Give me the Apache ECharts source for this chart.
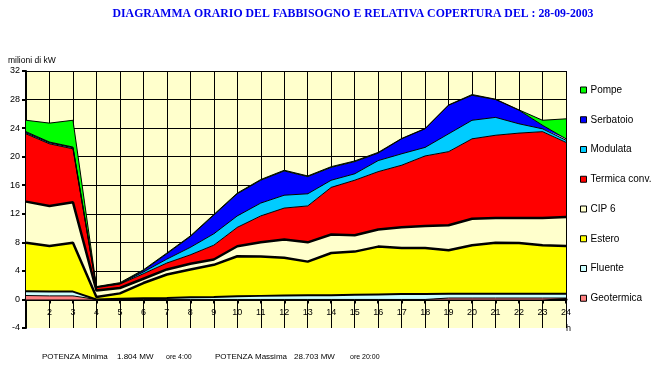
<!DOCTYPE html>
<html><head><meta charset="utf-8">
<script src="https://cdn.jsdelivr.net/npm/echarts@6/dist/echarts.min.js"></script>
<style>html,body{margin:0;padding:0;background:#fff}#c{width:653px;height:366px}</style>
</head><body><div id="c"></div>
<script>
const hours = ['1','2','3','4','5','6','7','8','9','10','11','12','13','14','15','16','17','18','19','20','21','22','23','24'];
const yTicks = [-4,0,4,8,12,16,20,24,28,32];
const geotermica = [0.55,0.5,0.5,0,0,0,0,0,0,0,0,0,0,0,0,0,0,0,0.2,0.2,0.2,0.2,0.2,0.2];
const fluente    = [0.6,0.6,0.6,0,0.1,0.15,0.2,0.3,0.35,0.45,0.5,0.55,0.6,0.6,0.65,0.7,0.75,0.75,0.6,0.6,0.6,0.6,0.6,0.6];
const estero     = [6.8,6.4,6.85,0.35,0.75,2.15,3.3,3.9,4.5,5.6,5.5,5.3,4.7,5.9,6.05,6.7,6.45,6.45,6.1,6.8,7.15,7.1,6.8,6.7];
const cip6       = [5.75,5.6,5.65,0.9,0.75,0.6,0.7,0.8,0.75,1.4,2.0,2.55,2.7,2.6,2.3,2.4,2.9,3.1,3.5,3.7,3.45,3.5,3.8,4.05];
const termica    = [9.5,8.7,7.5,0.4,0.55,0.7,0.9,1.25,2.0,2.65,3.7,4.4,5.1,6.6,7.7,8.1,8.7,9.8,10.3,11.2,11.6,11.9,12.1,10.45];
const modulata   = [0.15,0.15,0.15,0.05,0.05,0.25,0.55,1.05,1.6,1.6,1.8,1.8,1.7,1.0,0.9,1.55,1.6,1.2,2.5,2.6,2.5,1.3,0.4,0.3];
const serbatoio  = [0.15,0.1,0.1,0.05,0.05,0.2,0.75,1.5,2.6,3.1,3.2,3.4,2.4,1.8,1.7,1.05,2.1,2.6,4.0,3.5,2.5,1.9,0.5,0.2];
const pompe      = [1.6,2.65,3.75,0.054,0.1,0.1,0.1,0.1,0.1,0.1,0.1,0.1,0.1,0.1,0.1,0.1,0.05,0.05,0.05,0.103,0.05,0.05,0.7,2.8];

const seriesDefs = [
  ['Geotermica', geotermica, '#FF8080', 1],
  ['Fluente', fluente, '#CCFFFF', 2],
  ['Estero', estero, '#FFFF00', 2.5],
  ['CIP 6', cip6, '#FFFFCC', 2.5],
  ['Termica conv.', termica, '#FF0000', 1],
  ['Modulata', modulata, '#00CCFF', 1],
  ['Serbatoio', serbatoio, '#0000FF', 1],
  ['Pompe', pompe, '#00FF00', 1]
];

const GRID_TOP = 71, GRID_BOTTOM = 38, H = 366;
const plotH = H - GRID_TOP - GRID_BOTTOM;
const ymin = yTicks[0], ymax = yTicks[yTicks.length-1];
const zeroOffset = -plotH * (0 - ymin) / (ymax - ymin);

const chart = echarts.init(document.getElementById('c'), null, {renderer:'canvas'});
chart.setOption({
  animation:false,
  backgroundColor:'#fff',
  title:{text:'DIAGRAMMA ORARIO DEL FABBISOGNO E RELATIVA COPERTURA DEL : 28-09-2003',
    left:348, textAlign:'center', top:3,
    textStyle:{fontFamily:'Liberation Serif', fontWeight:'bold', fontSize:11.8, color:'#0000EE'}},
  grid:{left:26, right:87, top:GRID_TOP, bottom:GRID_BOTTOM, show:true, backgroundColor:'#FFFFCC', borderWidth:0},
  legend:{orient:'vertical', left:580, top:85, padding:0, icon:'rect', itemWidth:6, itemHeight:6, itemGap:19.75,
    data:['Pompe','Serbatoio','Modulata','Termica conv.','CIP 6','Estero','Fluente','Geotermica'],
    itemStyle:{borderColor:'#000', borderWidth:1},
    textStyle:{fontFamily:'Liberation Sans', fontSize:10, color:'#000', lineHeight:10, padding:[0,0,0,-1]}},
  xAxis:{type:'category', data:hours, boundaryGap:false, position:'bottom', offset:zeroOffset,
    axisLine:{onZero:false, lineStyle:{color:'#000', width:3}},
    axisTick:{show:true, length:4, lineStyle:{color:'#000', width:2}},
    axisLabel:{margin:9, fontFamily:'Liberation Sans', fontSize:9, color:'#000', interval:0,
      formatter:function(v, i){return i===0 ? '' : v;}},
    splitLine:{show:true, lineStyle:{color:'#000', width:1}}},
  yAxis:{type:'value', min:ymin, max:ymax, interval:4,
    axisLine:{show:true, lineStyle:{color:'#000', width:2}},
    axisTick:{show:true, length:4, lineStyle:{color:'#000', width:2}},
    axisLabel:{margin:6, fontFamily:'Liberation Sans', fontSize:9, color:'#000'},
    splitLine:{show:true, lineStyle:{color:['rgba(0,0,0,0)','#000','#000','#000','#000','#000','#000','#000','#000','#000'], width:1}}},
  graphic:[
    {type:'text', left:8, top:56, style:{text:'milioni di kW', font:'8.5px "Liberation Sans"', fill:'#000'}},
    {type:'text', left:566, top:324, style:{text:'h', font:'9px "Liberation Sans"', fill:'#000'}},
    {type:'text', left:42, top:353, style:{text:'POTENZA Minima', font:'8px "Liberation Sans"', fill:'#000'}},
    {type:'text', left:117, top:353, style:{text:'1.804 MW', font:'8px "Liberation Sans"', fill:'#000'}},
    {type:'text', left:166, top:354, style:{text:'ore 4:00', font:'7px "Liberation Sans"', fill:'#000'}},
    {type:'text', left:215, top:353, style:{text:'POTENZA Massima', font:'8px "Liberation Sans"', fill:'#000'}},
    {type:'text', left:294, top:353, style:{text:'28.703 MW', font:'8px "Liberation Sans"', fill:'#000'}},
    {type:'text', left:350, top:354, style:{text:'ore 20:00', font:'7px "Liberation Sans"', fill:'#000'}}
  ],
  series: seriesDefs.map(function(d){
    return {name:d[0], type:'line', stack:'tot', data:d[1], symbol:'none', smooth:false,
      color:d[2], itemStyle:{color:d[2]},
      lineStyle:{color:'#000', width:d[3]},
      areaStyle:{color:d[2], opacity:1}};
  })
});
</script></body></html>
